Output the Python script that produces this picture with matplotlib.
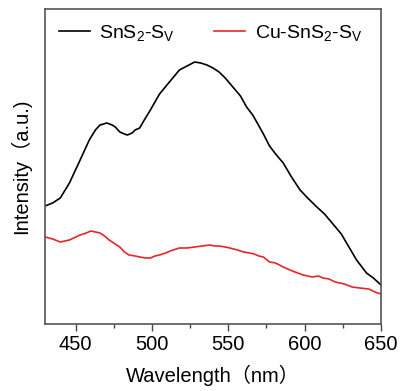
import matplotlib
matplotlib.use("Agg")
import matplotlib.pyplot as plt
from matplotlib.ticker import MultipleLocator

plt.rcParams['font.family'] = ['Liberation Sans', 'Noto Sans CJK SC', 'DejaVu Sans']
plt.rcParams['mathtext.fontset'] = 'custom'
plt.rcParams['mathtext.rm'] = 'Liberation Sans'
plt.rcParams['mathtext.it'] = 'Liberation Sans'

# Wavelength (nm) and intensity (a.u.)
wl_black = [430, 435, 440, 446, 453, 459, 463, 466, 470.5, 474, 476, 479, 482, 484, 487, 489,
            492, 495, 499, 505, 512, 518, 523, 528, 532, 536, 540, 544, 548, 553, 558, 562,
            566, 569, 573, 577, 581, 586, 591, 597, 602, 608, 613, 618, 624, 629, 634, 637,
            640.5, 645, 650]
int_black = [118, 121, 126, 141, 164, 184, 194, 199, 201, 199, 197, 192, 190, 189, 191, 194,
             196, 204, 214, 230, 243, 254, 258, 262, 261, 259, 256, 252, 246, 237, 228, 217,
             209, 201, 190, 178, 170, 161, 148, 134, 126, 117, 110, 101, 90, 77, 64, 58,
             51, 46, 39]

wl_red = [430, 435, 440, 446, 453, 457, 460, 463, 466, 469, 472, 476, 479, 482, 485, 489,
          492, 496, 499, 502, 505, 509, 512, 518, 523, 528, 533, 538, 541, 544, 548, 551,
          556, 560, 564, 567, 570, 573, 577, 581, 586, 592, 599, 605, 609, 612, 616, 620,
          626, 631, 636, 642, 646, 650]
int_red = [87, 85, 82, 84, 89, 91, 93, 92, 91, 88, 84, 80, 77, 72, 69, 68,
           67, 66, 66, 68, 69, 71, 73, 76, 76, 77, 78, 79, 78, 78, 77, 76,
           74, 72, 71, 70, 68, 67, 62, 61, 57, 53, 49, 47, 48, 46, 45, 42,
           40, 37, 36, 35, 32, 30]

fig = plt.figure(figsize=(4.03, 3.91), dpi=100)
ax = fig.add_axes([45/403, 1-324/391, 336/403, 315/391])

ax.plot(wl_black, int_black, color='black', lw=1.2, label=r'SnS$_2$-S$_V$')
ax.plot(wl_red, int_red, color='#e8262a', lw=1.2, label=r'Cu-SnS$_2$-S$_V$')

ax.set_xlim(430, 650)
ax.set_ylim(0, 315)
ax.xaxis.set_major_locator(MultipleLocator(50))
ax.xaxis.set_minor_locator(MultipleLocator(25))
ax.set_yticks([])
ax.tick_params(axis='x', which='major', direction='out', length=5, width=1, labelsize=14.5, pad=3, color='#444444')
ax.tick_params(axis='x', which='minor', direction='out', length=3, width=1, color='#444444')
for s in ax.spines.values():
    s.set_color('#555555')
    s.set_linewidth(1.2)

ax.set_xlabel('Wavelength（nm）', fontsize=14.5, labelpad=8)
ax.set_ylabel('Intensity（a.u.)', fontsize=14.5, labelpad=10)

ax.legend(loc='upper left', ncol=2, frameon=False, fontsize=14, handlelength=1.6,
          columnspacing=2.0, handletextpad=0.5, bbox_to_anchor=(0.0, 1.0), borderaxespad=0.3)

fig.savefig('out.png', dpi=100)
